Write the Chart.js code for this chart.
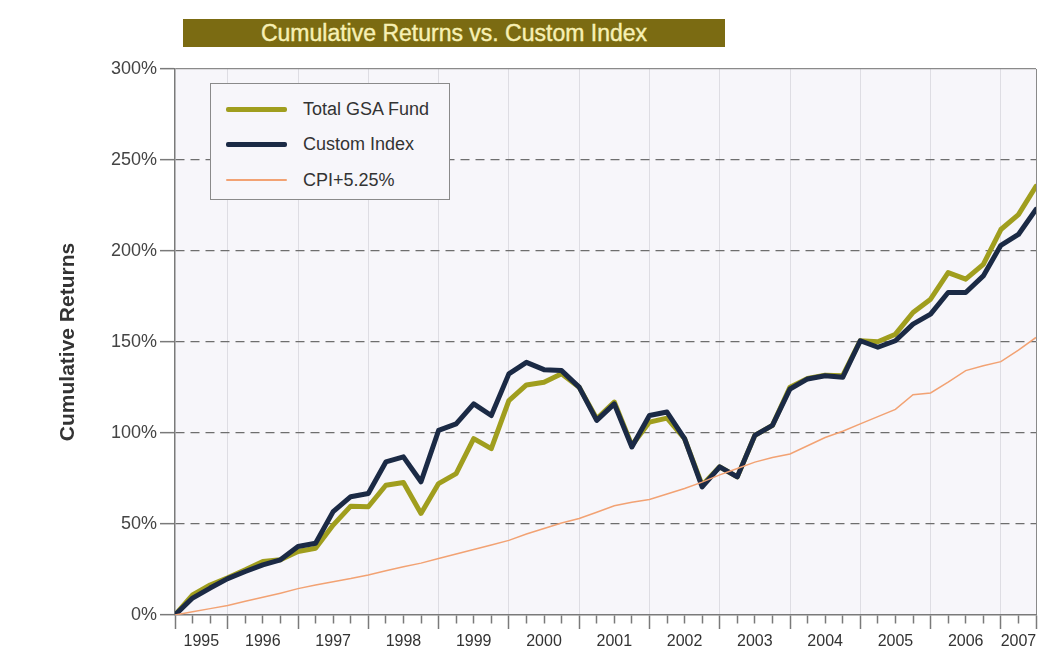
<!DOCTYPE html>
<html><head><meta charset="utf-8">
<script src="https://cdn.jsdelivr.net/npm/chart.js@4.4.0/dist/chart.umd.min.js"></script>
<style>
html,body{margin:0;padding:0;background:#ffffff;}
#wrap{position:relative;width:1040px;height:653px;overflow:hidden;}
#c{position:absolute;left:0;top:0;}
#title{position:absolute;left:183px;top:19px;width:542px;height:28px;background:#7b6b12;color:#f7f0b4;font:23px "Liberation Sans",Arial,sans-serif;line-height:29px;text-align:center;-webkit-text-stroke:0.4px #f7f0b4;}
#legend{position:absolute;left:210px;top:83px;width:240px;height:117px;border:1px solid #8a8a8a;background:#f7f6fa;box-sizing:border-box;font:18px "Liberation Sans",Arial,sans-serif;color:#333;}
.item{position:absolute;left:15px;width:220px;height:20px;}
.sw{position:absolute;left:0;width:61px;top:10px;border-radius:2px;}
.lb{position:absolute;left:77px;top:0;line-height:20px;white-space:nowrap;}
</style></head>
<body>
<div id="wrap">
<canvas id="c" width="1040" height="653"></canvas>
<div id="title">Cumulative Returns vs. Custom Index</div>
<div id="legend"></div>
</div>
<script>
// ---- data (quarter-end cumulative returns, %) ----
const quarterEnds = [
 '1995 Q1','1995 Q2','1995 Q3','1995 Q4',
 '1996 Q1','1996 Q2','1996 Q3','1996 Q4',
 '1997 Q1','1997 Q2','1997 Q3','1997 Q4',
 '1998 Q1','1998 Q2','1998 Q3','1998 Q4',
 '1999 Q1','1999 Q2','1999 Q3','1999 Q4',
 '2000 Q1','2000 Q2','2000 Q3','2000 Q4',
 '2001 Q1','2001 Q2','2001 Q3','2001 Q4',
 '2002 Q1','2002 Q2','2002 Q3','2002 Q4',
 '2003 Q1','2003 Q2','2003 Q3','2003 Q4',
 '2004 Q1','2004 Q2','2004 Q3','2004 Q4',
 '2005 Q1','2005 Q2','2005 Q3','2005 Q4',
 '2006 Q1','2006 Q2','2006 Q3','2006 Q4',
 '2007 Q1','2007 Q2'
];
const yearLabels = ['1995','1996','1997','1998','1999','2000','2001','2002','2003','2004','2005','2006','2007'];
const totalGSA = [0,11,16.5,20.5,24.8,29.4,30.3,34.9,36.7,49.4,59.8,59.5,71.3,72.8,55.8,72.2,77.7,96.9,91.4,117.8,
 126.4,127.9,132.5,125.2,107.8,117,93.2,106,108.2,96.9,71.3,81.4,75.9,98.7,104.2,125.2,130,131.8,131.5,150.7,
 150.1,154.3,166.2,173.5,188.1,184.5,192.7,211.8,220,235.5];
const customIndex = [0,9.3,14.8,20,23.9,27.5,30.3,37.6,39.4,56.8,65,66.8,84.1,86.9,73.2,101.4,105,116,109.6,132.5,
 138.8,134.8,134.3,125.2,106.9,116,92.3,109.6,111.5,96.9,70.4,81.4,75.9,98.7,104.2,124.2,129.7,131.5,130.6,150.7,
 147.1,150.7,159.8,165.3,177.2,177.2,186.3,203.1,209.1,222.8];
const cpiPlus = [0,1.8,3.5,5.2,7.5,9.7,12,14.5,16.5,18.3,20,22,24.3,26.5,28.5,31,33.5,36,38.5,41,
 44.5,47.5,50.5,53,56.5,60,62,63.5,66.5,69.5,73,77,80.5,84,86.5,88.5,93,97.5,101,105,
 109,113,121,122,128,134.3,137,139.2,145.5,152.5];
const yTicks = [0,50,100,150,200,250,300];
const seriesNames = ['Total GSA Fund','Custom Index','CPI+5.25%'];

// ---- derived tick structure ----
const lastIdx = quarterEnds.length - 1;
const boundaries = [0];
quarterEnds.forEach((q,i)=>{ if(q.endsWith('Q4')) boundaries.push(i); });
if (boundaries[boundaries.length-1] !== lastIdx) boundaries.push(lastIdx);
const labelPos = {};
for (let k=0;k<boundaries.length-1;k++){
  labelPos[(boundaries[k]+boundaries[k+1])/2] = yearLabels[k];
}
const tickValues = [];
for (let i=0;i<=lastIdx;i++) tickValues.push(i);
Object.keys(labelPos).forEach(v=>{ const n=parseFloat(v); if(!tickValues.includes(n)) tickValues.push(n); });
tickValues.sort((a,b)=>a-b);
const isBoundary = v => boundaries.includes(v);

const toXY = arr => arr.map((v,i)=>({x:i,y:v}));
const FONT = '"Liberation Sans", Arial, sans-serif';

const bgPlugin = {
  id:'bg',
  beforeDraw(chart){
    const {ctx, chartArea:a} = chart;
    ctx.save(); ctx.fillStyle='#f7f6fa';
    ctx.fillRect(a.left,a.top,a.right-a.left,a.bottom-a.top); ctx.restore();
  }
};

const chart = new Chart(document.getElementById('c'), {
  type:'line',
  data:{
    datasets:[
      {label:seriesNames[0], data:toXY(totalGSA), borderColor:'#a09e1e', borderWidth:5, pointRadius:0, order:2, borderJoinStyle:'round', borderCapStyle:'round'},
      {label:seriesNames[1], data:toXY(customIndex), borderColor:'#1b2a45', borderWidth:5, pointRadius:0, order:1, borderJoinStyle:'round', borderCapStyle:'round'},
      {label:seriesNames[2], data:toXY(cpiPlus), borderColor:'#f2a273', borderWidth:1.5, pointRadius:0, order:0}
    ]
  },
  options:{
    responsive:false, animation:false, devicePixelRatio:1,
    layout:{padding:{top:69,right:4,left:0,bottom:0}},
    plugins:{legend:{display:false}, tooltip:{enabled:false}},
    scales:{
      x:{
        type:'linear', min:0, max:lastIdx,
        afterBuildTicks(axis){ axis.ticks = tickValues.map(v=>({value:v})); },
        afterFit(scale){ scale.height = 38; },
        ticks:{autoSkip:false, maxRotation:0, padding:3, color:'#333', font:{family:FONT,size:16},
          callback:(v)=> labelPos[v]!==undefined ? labelPos[v] : ''},
        grid:{
          drawOnChartArea:true, tickLength:14, tickWidth:1.5, lineWidth:1,
          color:(c)=>{ const v=c.tick.value; if(v===lastIdx) return '#8a8a8a'; if(v===0) return 'rgba(0,0,0,0)'; return (Number.isInteger(v)&&isBoundary(v))?'#dedde3':'rgba(0,0,0,0)'; },
          tickColor:(c)=>{ const v=c.tick.value; return Number.isInteger(v)?'#7a7a7a':'rgba(0,0,0,0)'; },
          tickBorderDash:(c)=>{ const v=c.tick.value; return (Number.isInteger(v)&&!isBoundary(v))?[8,40]:[]; }
        },
        border:{color:'#7a7a7a', width:1.5}
      },
      y:{
        min:0, max:300,
        afterBuildTicks(axis){ axis.ticks = yTicks.map(v=>({value:v})); },
        afterFit(scale){ scale.width = 175; },
        ticks:{padding:3, color:'#444', font:{family:FONT,size:18}, callback:v=>v+'%'},
        title:{display:true, text:'Cumulative Returns', color:'#333', font:{family:FONT,size:21,weight:'bold'}, padding:{top:56,bottom:0}},
        grid:{
          tickLength:15, tickWidth:1.5, lineWidth:1.3, tickColor:'#7a7a7a',
          color:(c)=>{ const v=c.tick.value; if(v===0) return 'rgba(0,0,0,0)'; if(v===300) return '#8a8a8a'; return '#6e6e6e'; }
        },
        border:{color:'#7a7a7a', width:1.5, dash:(c)=>{ const v=c.tick && c.tick.value; return (v===0||v===300)?[]:[9,6]; }}
      }
    }
  },
  plugins:[bgPlugin]
});

// ---- HTML legend built from the datasets ----
const legend = document.getElementById('legend');
const rowTops = [15,50,86];
chart.data.datasets.forEach((ds,i)=>{
  const it = document.createElement('div'); it.className='item'; it.style.top=rowTops[i]+'px';
  const sw = document.createElement('div'); sw.className='sw';
  sw.style.height = ds.borderWidth+'px'; sw.style.marginTop = (-ds.borderWidth/2)+'px'; sw.style.background = ds.borderColor;
  const lb = document.createElement('div'); lb.className='lb'; lb.textContent = ds.label;
  it.appendChild(sw); it.appendChild(lb); legend.appendChild(it);
});
</script>
</body></html>
